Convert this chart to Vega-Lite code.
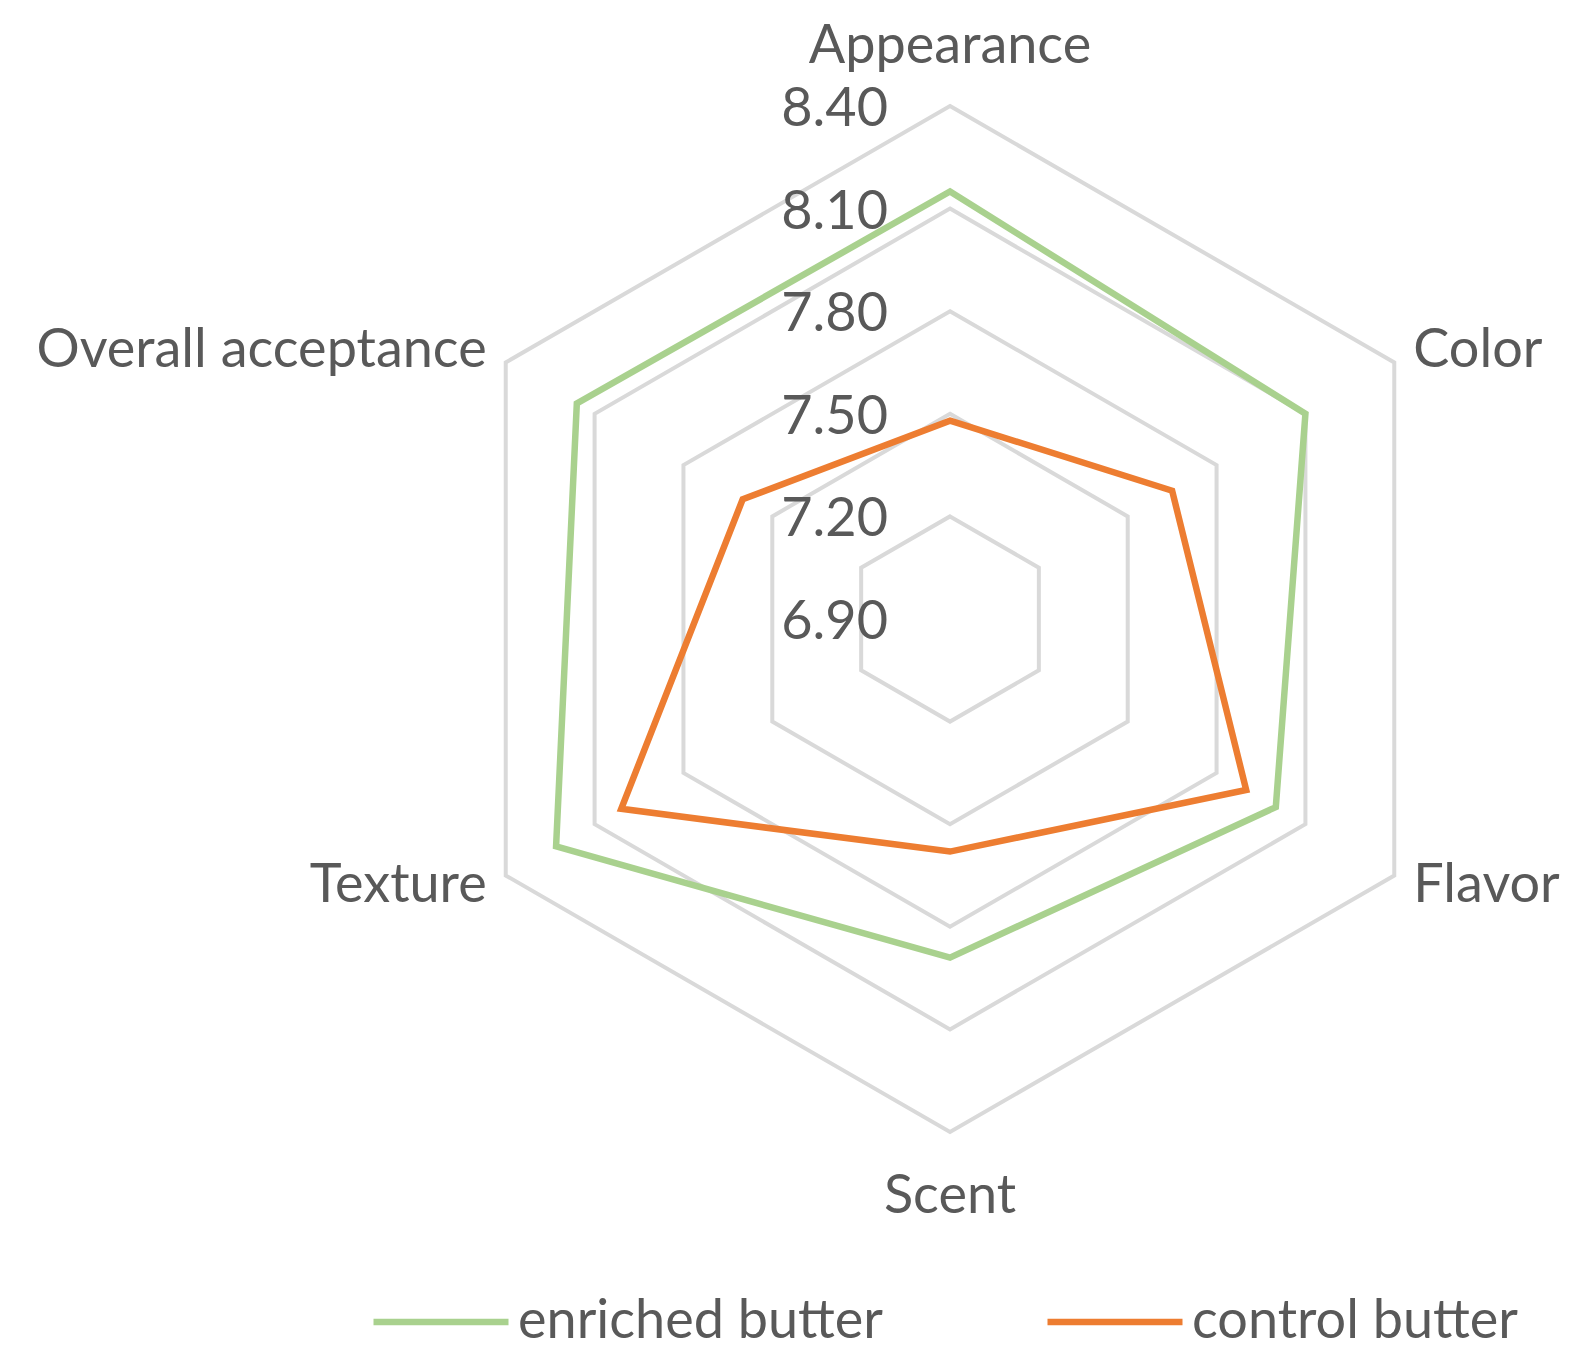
{
  "$schema": "https://vega.github.io/schema/vega-lite/v6.json",
  "width": 1589,
  "height": 1366,
  "autosize": "none",
  "padding": 0,
  "background": "white",
  "config": {"view": {"stroke": null}, "font": "Lato"},
  "datasets": {
    "scores": [
      {"attribute": "Appearance", "idx": 0, "series": "enriched butter", "value": 8.15},
      {"attribute": "Color", "idx": 1, "series": "enriched butter", "value": 8.10},
      {"attribute": "Flavor", "idx": 2, "series": "enriched butter", "value": 8.00},
      {"attribute": "Scent", "idx": 3, "series": "enriched butter", "value": 7.89},
      {"attribute": "Texture", "idx": 4, "series": "enriched butter", "value": 8.23},
      {"attribute": "Overall acceptance", "idx": 5, "series": "enriched butter", "value": 8.16},
      {"attribute": "Appearance", "idx": 0, "series": "control butter", "value": 7.48},
      {"attribute": "Color", "idx": 1, "series": "control butter", "value": 7.65},
      {"attribute": "Flavor", "idx": 2, "series": "control butter", "value": 7.90},
      {"attribute": "Scent", "idx": 3, "series": "control butter", "value": 7.58},
      {"attribute": "Texture", "idx": 4, "series": "control butter", "value": 8.01},
      {"attribute": "Overall acceptance", "idx": 5, "series": "control butter", "value": 7.60}
    ],
    "axes": [
      {"attribute": "Appearance", "idx": 0},
      {"attribute": "Color", "idx": 1},
      {"attribute": "Flavor", "idx": 2},
      {"attribute": "Scent", "idx": 3},
      {"attribute": "Texture", "idx": 4},
      {"attribute": "Overall acceptance", "idx": 5}
    ],
    "grid": [
      {"level": 7.2, "idx": [0, 1, 2, 3, 4, 5]},
      {"level": 7.5, "idx": [0, 1, 2, 3, 4, 5]},
      {"level": 7.8, "idx": [0, 1, 2, 3, 4, 5]},
      {"level": 8.1, "idx": [0, 1, 2, 3, 4, 5]},
      {"level": 8.4, "idx": [0, 1, 2, 3, 4, 5]}
    ],
    "ticks": [
      {"level": 6.9}, {"level": 7.2}, {"level": 7.5}, {"level": 7.8}, {"level": 8.1}, {"level": 8.4}
    ]
  },
  "layer": [
    {
      "data": {"name": "grid"},
      "transform": [
        {"flatten": ["idx"]},
        {"calculate": "datum.level - 6.9", "as": "r"},
        {"calculate": "datum.r * sin(datum.idx * PI / 3)", "as": "px"},
        {"calculate": "datum.r * cos(datum.idx * PI / 3)", "as": "py"}
      ],
      "mark": {"type": "line", "interpolate": "linear-closed", "stroke": "#D9D9D9", "strokeWidth": 4},
      "encoding": {
        "x": {"field": "px", "type": "quantitative", "scale": {"domain": [-2.7778, 1.8684], "nice": false, "zero": false}, "axis": null},
        "y": {"field": "py", "type": "quantitative", "scale": {"domain": [-2.1842, 1.8099], "nice": false, "zero": false}, "axis": null},
        "detail": {"field": "level", "type": "nominal"},
        "order": {"field": "idx", "type": "quantitative"}
      }
    },
    {
      "data": {"name": "scores"},
      "transform": [
        {"calculate": "datum.value - 6.9", "as": "r"},
        {"calculate": "datum.r * sin(datum.idx * PI / 3)", "as": "px"},
        {"calculate": "datum.r * cos(datum.idx * PI / 3)", "as": "py"}
      ],
      "mark": {"type": "line", "interpolate": "linear-closed", "strokeWidth": 6.5},
      "encoding": {
        "x": {"field": "px", "type": "quantitative", "scale": {"domain": [-2.7778, 1.8684], "nice": false, "zero": false}, "axis": null},
        "y": {"field": "py", "type": "quantitative", "scale": {"domain": [-2.1842, 1.8099], "nice": false, "zero": false}, "axis": null},
        "color": {
          "field": "series", "type": "nominal",
          "scale": {"domain": ["enriched butter", "control butter"], "range": ["#A9D18E", "#ED7D31"]},
          "legend": {
            "title": null, "orient": "none", "direction": "horizontal",
            "legendX": 370, "legendY": 1251,
            "symbolType": "stroke", "symbolStrokeWidth": 6.5, "symbolSize": 18225,
            "labelFontSize": 54, "labelColor": "#595959", "labelFont": "Lato",
            "labelOffset": 6, "columnPadding": 150, "padding": 0, "labelLimit": 600
          }
        },
        "order": {"field": "idx", "type": "quantitative"}
      }
    },
    {
      "data": {"name": "ticks"},
      "transform": [
        {"calculate": "datum.level - 6.9", "as": "py"}
      ],
      "mark": {"type": "text", "align": "right", "baseline": "middle", "dx": -62, "dy": 4, "fontSize": 54, "color": "#595959"},
      "encoding": {
        "x": {"datum": 0, "type": "quantitative", "scale": {"domain": [-2.7778, 1.8684], "nice": false, "zero": false}, "axis": null},
        "y": {"field": "py", "type": "quantitative", "scale": {"domain": [-2.1842, 1.8099], "nice": false, "zero": false}, "axis": null},
        "text": {"field": "level", "type": "quantitative", "format": ".2f"}
      }
    },
    {
      "data": {"name": "axes"},
      "transform": [
        {"filter": "datum.idx == 0 || datum.idx == 3"},
        {"calculate": "1.6813 * sin(datum.idx * PI / 3)", "as": "px"},
        {"calculate": "1.6813 * cos(datum.idx * PI / 3)", "as": "py"}
      ],
      "mark": {"type": "text", "align": "center", "baseline": "middle", "dy": 3, "fontSize": 54, "color": "#595959"},
      "encoding": {
        "x": {"field": "px", "type": "quantitative", "scale": {"domain": [-2.7778, 1.8684], "nice": false, "zero": false}, "axis": null},
        "y": {"field": "py", "type": "quantitative", "scale": {"domain": [-2.1842, 1.8099], "nice": false, "zero": false}, "axis": null},
        "text": {"field": "attribute", "type": "nominal"}
      }
    },
    {
      "data": {"name": "axes"},
      "transform": [
        {"filter": "datum.idx == 1 || datum.idx == 2"},
        {"calculate": "1.5643 * sin(datum.idx * PI / 3)", "as": "px"},
        {"calculate": "1.5643 * cos(datum.idx * PI / 3)", "as": "py"}
      ],
      "mark": {"type": "text", "align": "left", "baseline": "middle", "fontSize": 54, "color": "#595959"},
      "encoding": {
        "x": {"field": "px", "type": "quantitative", "scale": {"domain": [-2.7778, 1.8684], "nice": false, "zero": false}, "axis": null},
        "y": {"field": "py", "type": "quantitative", "scale": {"domain": [-2.1842, 1.8099], "nice": false, "zero": false}, "axis": null},
        "text": {"field": "attribute", "type": "nominal"}
      }
    },
    {
      "data": {"name": "axes"},
      "transform": [
        {"filter": "datum.idx == 4 || datum.idx == 5"},
        {"calculate": "1.5643 * sin(datum.idx * PI / 3)", "as": "px"},
        {"calculate": "1.5643 * cos(datum.idx * PI / 3)", "as": "py"}
      ],
      "mark": {"type": "text", "align": "right", "baseline": "middle", "fontSize": 54, "color": "#595959"},
      "encoding": {
        "x": {"field": "px", "type": "quantitative", "scale": {"domain": [-2.7778, 1.8684], "nice": false, "zero": false}, "axis": null},
        "y": {"field": "py", "type": "quantitative", "scale": {"domain": [-2.1842, 1.8099], "nice": false, "zero": false}, "axis": null},
        "text": {"field": "attribute", "type": "nominal"}
      }
    }
  ]
}
